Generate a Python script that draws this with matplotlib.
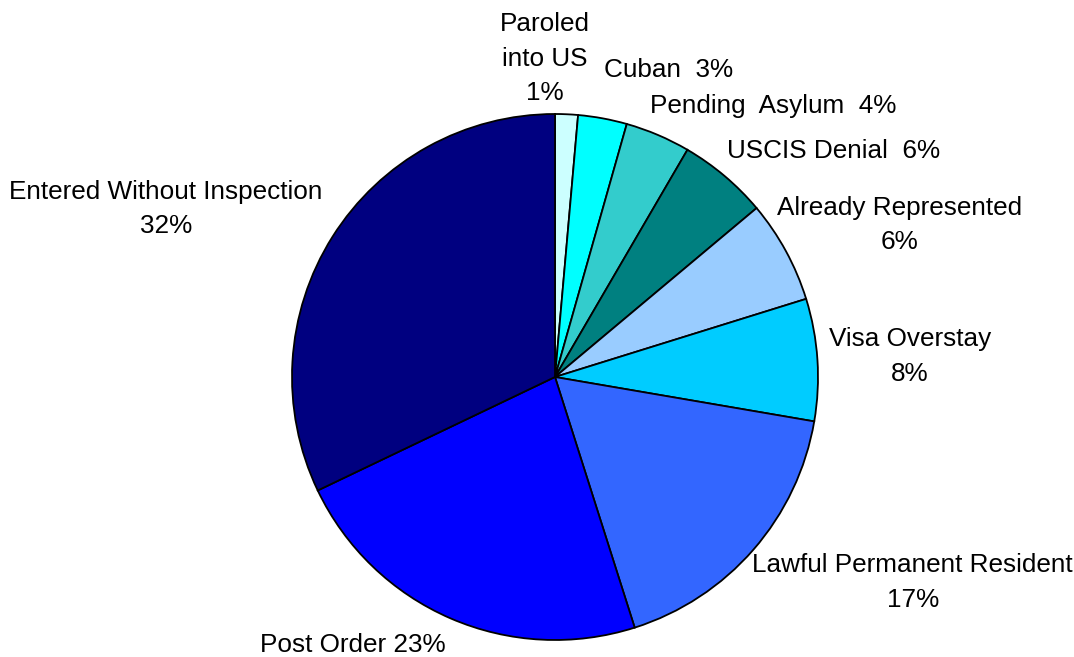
import matplotlib

matplotlib.use("Agg")

import matplotlib.pyplot as plt

plt.rcParams['font.family'] = ['Liberation Sans', 'DejaVu Sans']

# slices clockwise from 12 o'clock
categories = ["Paroled into US", "Cuban", "Pending Asylum", "USCIS Denial",
              "Already Represented", "Visa Overstay", "Lawful Permanent Resident",
              "Post Order", "Entered Without Inspection"]
shares = [1.4, 3.0, 4.0, 5.5, 6.3, 7.5, 17.4, 22.8, 32.1]
labels = ["Paroled\ninto US\n1%", "Cuban  3%", "Pending  Asylum  4%", "USCIS Denial  6%",
          "Already Represented\n6%", "Visa Overstay\n8%", "Lawful Permanent Resident\n17%",
          "Post Order 23%", "Entered Without Inspection\n32%"]
colors = ['#CCFFFF', '#00FFFF', '#33CCCC', '#008080', '#99CCFF',
          '#00CCFF', '#3366FF', '#0000FF', '#000080']

# label centres in pie-radius units
label_pos = [(-0.04, 1.21), (0.43, 1.167), (0.83, 1.03), (1.06, 0.86), (1.31, 0.578),
             (1.35, 0.078), (1.36, -0.782), (-0.77, -1.02), (-1.48, 0.638)]

fig = plt.figure(figsize=(10.74, 6.57), dpi=100, facecolor='white')
ax = fig.add_axes([0, 0, 1, 1])

ax.pie(shares, colors=colors, startangle=90, counterclock=False, radius=1.0,
       wedgeprops=dict(edgecolor='black', linewidth=1.3))

for text, (x, y) in zip(labels, label_pos):
    ax.text(x, y, text, ha='center', va='center', fontsize=18.8, color='black',
            linespacing=1.55)

# map data units to pixels: centre (555, 377), radius 263 px
r = 263.0
ax.set_xlim(-555 / r, (1074 - 555) / r)
ax.set_ylim((377 - 657) / r, 377 / r)
ax.set_aspect('equal')
ax.axis('off')

fig.savefig("out.png", dpi=100, facecolor='white')
